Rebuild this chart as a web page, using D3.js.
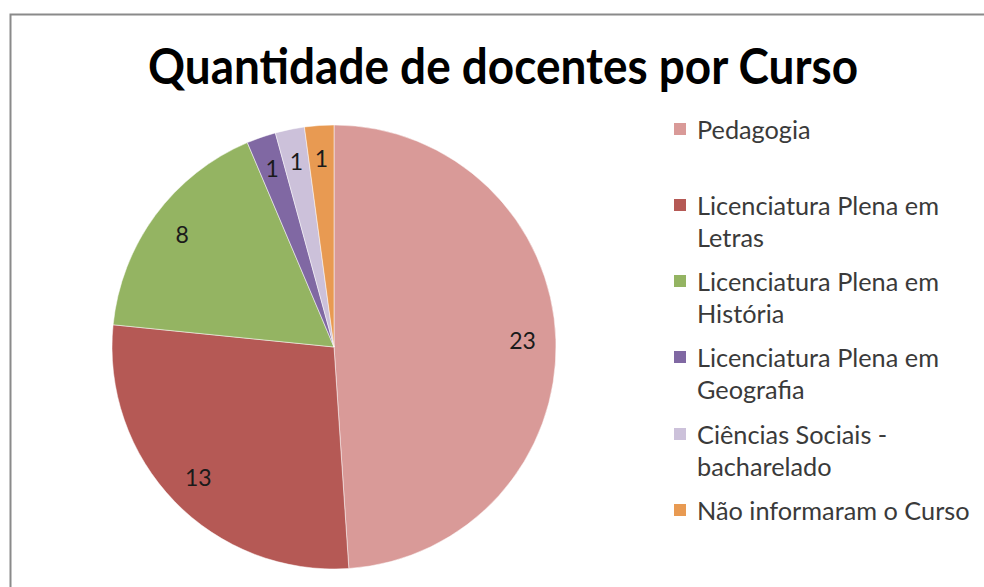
<!DOCTYPE html>
<html><head><meta charset="utf-8">
<script src="https://cdn.jsdelivr.net/npm/d3@7"></script>
<style>body{margin:0;background:#fff}svg{display:block}</style>
</head><body>
<svg id="c" width="984" height="587"></svg>
<script>
const categories = ["Pedagogia","Licenciatura Plena em Letras","Licenciatura Plena em História","Licenciatura Plena em Geografia","Ciências Sociais - bacharelado","Não informaram o Curso"];
const legendLines = [["Pedagogia"],["Licenciatura Plena em","Letras"],["Licenciatura Plena em","História"],["Licenciatura Plena em","Geografia"],["Ciências Sociais -","bacharelado"],["Não informaram o Curso"]];
const values = [23,13,8,1,1,1];
const colors = ["#D99A98","#B55955","#94B462","#8068A3","#CCC1DA","#E89A52"];
const title = "Quantidade de docentes por Curso";

const svg = d3.select("#c");
svg.append("rect").attr("x",10.5).attr("y",14.5).attr("width",990).attr("height",600)
  .attr("fill","#fff").attr("stroke","#8a8a8a").attr("stroke-width",2);

svg.append("text").attr("x",503).attr("y",84).attr("text-anchor","middle")
  .attr("font-family","Lato, 'Open Sans', sans-serif").attr("font-weight","bold")
  .attr("font-size",50).attr("textLength",710).attr("lengthAdjust","spacingAndGlyphs")
  .attr("fill","#000").text(title);

const cx=334, cy=347, r=222;
const pie = d3.pie().sort(null).value(d=>d)(values);
const arc = d3.arc().innerRadius(0).outerRadius(r);
const labelArc = d3.arc().innerRadius(r*0.85).outerRadius(r*0.85);
const g = svg.append("g").attr("transform",`translate(${cx},${cy})`);
g.selectAll("path").data(pie).join("path").attr("d",arc)
  .attr("fill",(d,i)=>colors[i]).attr("stroke","#fff").attr("stroke-width",0.5);
g.selectAll("text").data(pie).join("text")
  .attr("transform",d=>`translate(${labelArc.centroid(d)})`)
  .attr("text-anchor","middle").attr("dy","0.36em")
  .attr("font-family","Lato, 'Open Sans', sans-serif").attr("font-size",23).attr("fill","#1a1a1a")
  .text(d=>d.data);

const ly = [130,206,282,358,435,511];
const lg = svg.append("g");
legendLines.forEach((lines,i)=>{
  lg.append("rect").attr("x",674).attr("y",ly[i]-7).attr("width",12).attr("height",12).attr("fill",colors[i]);
  lines.forEach((t,j)=>{
    lg.append("text").attr("x",697).attr("y",ly[i]+j*32).attr("dy","0.35em")
      .attr("font-family","Lato, 'Open Sans', sans-serif").attr("font-size",25.3).attr("fill","#3a3a3a").text(t);
  });
});
</script>
</body></html>
